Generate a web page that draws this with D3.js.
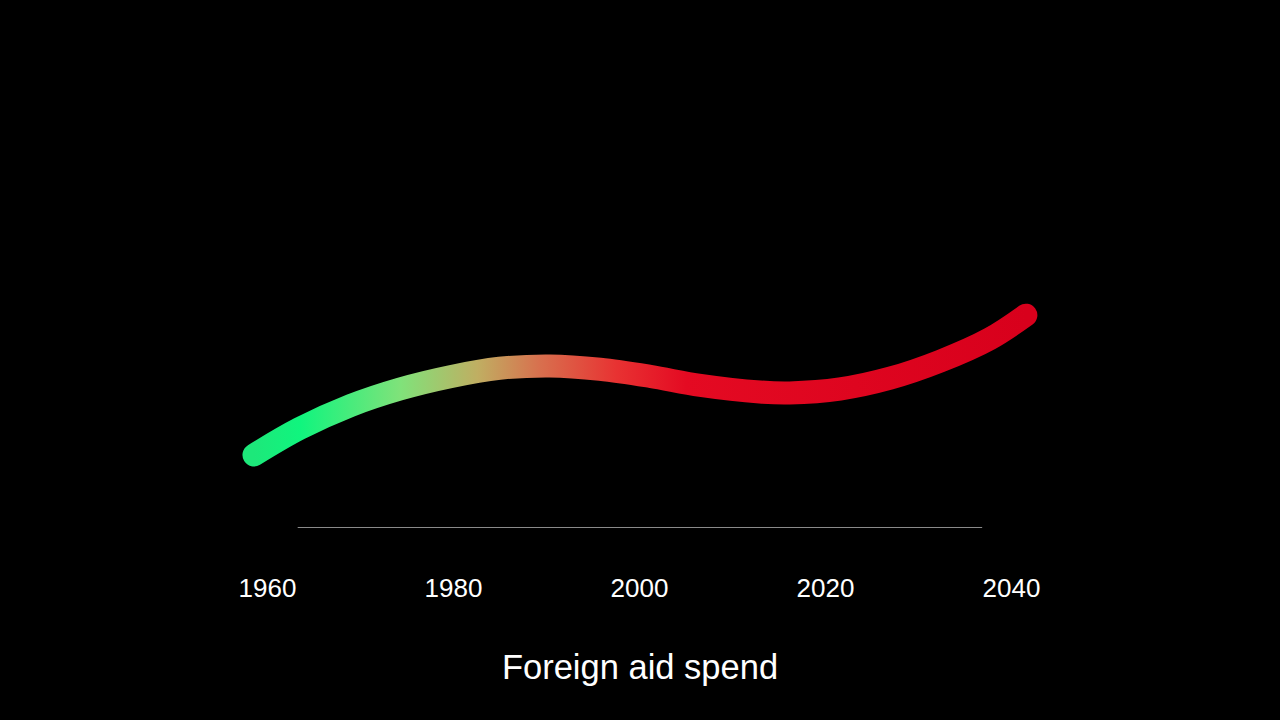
<!DOCTYPE html>
<html lang="en">
  <head>
    <meta charset="UTF-8" />
    <title>Foreign aid spend</title>
    <style>
      html,
      body {
        margin: 0;
        background: #000;
      }
      body {
        font-family: "Liberation Sans", Arial, sans-serif;
      }
      .tick text {
        fill: #fff;
        font-size: 26px;
      }
      .title {
        fill: #fff;
        font-size: 34.5px;
      }
    </style>
  </head>
  <body>
    <svg width="1280" height="720"></svg>

    <script src="https://d3js.org/d3.v7.min.js"></script>
    <script>
      const width = 1280,
        height = 720;

      // values
      const years = [
        1958.6, 1963.5, 1969, 1974.3, 1979.7, 1985, 1990.4, 1995.8, 2001.2,
        2006.6, 2013, 2016.2, 2021.6, 2027, 2032.4, 2037.7, 2041.6,
      ];
      const spend = [
        24.0, 32.8, 40.5, 46.0, 50.1, 52.9, 53.7, 52.6, 50.2, 47.2, 45.0, 44.7,
        46.0, 49.6, 55.3, 62.7, 70.6,
      ];
      const tickYears = [1960, 1980, 2000, 2020, 2040];
      const baselineSpan = [1963.3, 2036.9];

      const gradStops = [
        [0, "#1de87a"],
        [0.06, "#10f57e"],
        [0.19, "#80e27a"],
        [0.29, "#c0ae62"],
        [0.37, "#d8704e"],
        [0.47, "#e83232"],
        [0.56, "#e40a22"],
        [1, "#d8001c"],
      ];

      const data = years.map((y, i) => ({ year: y, value: spend[i] }));

      const x = d3.scaleLinear().domain([1960, 2040]).range([267, 1011]);
      const y = d3.scaleLinear().domain([0, 100]).range([527, 227]);

      const svg = d3.select("svg");

      const defs = svg.append("defs");
      const grad = defs
        .append("linearGradient")
        .attr("id", "lineGrad")
        .attr("gradientUnits", "userSpaceOnUse")
        .attr("x1", x(years[0]))
        .attr("x2", x(years[years.length - 1]))
        .attr("y1", 0)
        .attr("y2", 0);
      grad
        .selectAll("stop")
        .data(gradStops)
        .join("stop")
        .attr("offset", (d) => d[0])
        .attr("stop-color", (d) => d[1]);

      // baseline
      svg
        .append("line")
        .attr("x1", x(baselineSpan[0]))
        .attr("x2", x(baselineSpan[1]))
        .attr("y1", y(0) + 0.5)
        .attr("y2", y(0) + 0.5)
        .attr("stroke", "#8a8a8a")
        .attr("stroke-width", 1);

      const line = d3
        .line()
        .x((d) => x(d.year))
        .y((d) => y(d.value))
        .curve(d3.curveCatmullRom.alpha(0.5));

      svg
        .append("path")
        .datum(data)
        .attr("d", line)
        .attr("fill", "none")
        .attr("stroke", "url(#lineGrad)")
        .attr("stroke-width", 23)
        .attr("stroke-linecap", "round")
        .attr("stroke-linejoin", "round");

      const axis = d3
        .axisBottom(x)
        .tickValues(tickYears)
        .tickFormat(d3.format("d"))
        .tickSize(0)
        .tickPadding(0);

      svg
        .append("g")
        .attr("transform", "translate(0,597)")
        .call(axis)
        .call((g) => g.select(".domain").remove())
        .selectAll("text")
        .attr("dy", 0);

      svg
        .append("text")
        .attr("class", "title")
        .attr("x", width / 2)
        .attr("y", 679)
        .attr("text-anchor", "middle")
        .text("Foreign aid spend");
    </script>
  </body>
</html>
